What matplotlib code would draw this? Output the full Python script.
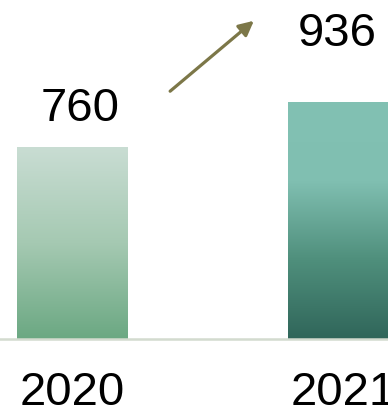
import matplotlib
matplotlib.use('Agg')
from matplotlib import pyplot as plt
from matplotlib.colors import LinearSegmentedColormap
import numpy as np

years = ['2020', '2021']
values = [760, 936]

# gradient colours, top -> bottom
bar_colors = [
    ['#c9ddd3', '#a5c9b2', '#6ba882'],
    ['#82c1b3', '#80bfb1', '#4f8f7c', '#30665a'],
]

plt.rcParams['font.family'] = ['Liberation Sans', 'DejaVu Sans']

fig = plt.figure(figsize=(3.88, 4.09), dpi=100)
ax = fig.add_axes([0, 70 / 409, 1, 339 / 409])

x = np.arange(len(years))
width = 0.406
bars = ax.bar(x, values, width=width, color='none')

for b, cols in zip(bars, bar_colors):
    cmap = LinearSegmentedColormap.from_list('g', cols[::-1])
    grad = np.linspace(0, 1, 256).reshape(-1, 1)
    x0, y0 = b.get_x(), b.get_y()
    ax.imshow(grad, cmap=cmap, origin='lower', aspect='auto',
              extent=[x0, x0 + b.get_width(), y0, y0 + b.get_height()],
              zorder=1)

# value labels
offsets = [(8, 38), (-6, 69)]
for xi, v, (dx, dy) in zip(x, values, offsets):
    ax.annotate(str(v), (xi, v), xytext=(dx, dy), textcoords='offset pixels',
                ha='center', va='center', fontsize=34)

ax.set_xlim(-0.266, 1.166)
ax.set_ylim(0, 1342)
ax.set_xticks(x)
ax.set_xticklabels(years, fontsize=34)
ax.tick_params(axis='x', length=0, pad=23)
ax.set_yticks([])
for s in ['top', 'left', 'right']:
    ax.spines[s].set_visible(False)
ax.spines['bottom'].set_color('#d3dbcf')
ax.spines['bottom'].set_linewidth(1.8)

# growth arrow
ax.annotate('', xy=(256 / 388, 1 - 19 / 409), xytext=(168 / 388, 1 - 93 / 409),
            xycoords='figure fraction', textcoords='figure fraction',
            arrowprops=dict(arrowstyle='-|>', color='#7c7748', lw=2.3,
                            mutation_scale=22))

fig.savefig('out.png', dpi=100)
